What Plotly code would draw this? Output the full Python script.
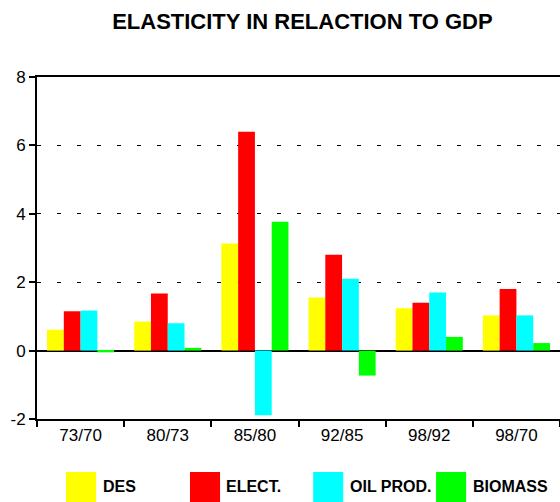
import plotly.graph_objects as go

# data
periods = ["73/70", "80/73", "85/80", "92/85", "98/92", "98/70"]
series_names = ["DES", "ELECT.", "OIL PROD.", "BIOMASS"]
des = [0.61, 0.85, 3.13, 1.55, 1.24, 1.03]
elect = [1.15, 1.67, 6.40, 2.80, 1.40, 1.80]
oil_prod = [1.17, 0.80, -1.89, 2.10, 1.70, 1.03]
biomass = [-0.05, 0.08, 3.77, -0.73, 0.40, 0.22]
y_ticks = [-2, 0, 2, 4, 6, 8]
y_tick_labels = ["-2", "0", "2", "4", "6", "8"]

colors = ["#FFFF00", "#FF0000", "#00FFFF", "#00FF00"]
values = [des, elect, oil_prod, biomass]

fig = go.Figure()

for name, vals, col in zip(series_names, values, colors):
    fig.add_trace(go.Bar(
        x=periods,
        y=vals,
        name=name,
        marker=dict(color=col, line=dict(width=0)),
        showlegend=False,
    ))

# hand-made legend with large swatches, like the original
legend_x = [0.0555, 0.2925, 0.528, 0.763]
for name, col, lx in zip(series_names, colors, legend_x):
    fig.add_shape(
        type="rect", xref="paper", yref="paper",
        x0=lx, x1=lx + 0.0575, y0=-0.155, y1=-0.245,
        fillcolor=col, line=dict(width=0),
    )
    fig.add_annotation(
        text=f"<b>{name}</b>", xref="paper", yref="paper",
        x=lx + 0.066, y=-0.196, xanchor="left", yanchor="middle",
        showarrow=False, font=dict(size=16, color="black"),
    )

fig.update_layout(
    width=560,
    height=502,
    title=dict(
        text="<b>ELASTICITY IN RELACTION TO GDP</b>",
        x=0.54, xanchor="center", y=0.958, yanchor="middle",
        font=dict(size=22, color="black"),
    ),
    barmode="group",
    bargap=0.23,
    bargroupgap=0,
    margin=dict(l=37, r=0, t=77, b=83, pad=0),
    font=dict(family="Arial, Liberation Sans, sans-serif", size=17, color="black"),
    plot_bgcolor="white",
    paper_bgcolor="white",
)

fig.update_xaxes(
    showline=True, linecolor="black", linewidth=2, mirror=True,
    ticks="outside", tickson="boundaries", ticklen=6, tickwidth=2, tickcolor="black",
    showgrid=False, automargin=False,
)

fig.update_yaxes(
    range=[-2, 8], tickvals=y_ticks, ticktext=y_tick_labels,
    showline=True, linecolor="black", linewidth=2,
    ticks="outside", ticklen=6, tickwidth=2, tickcolor="black",
    showgrid=True, gridcolor="black", gridwidth=1, griddash="4px,16px",
    zeroline=True, zerolinecolor="black", zerolinewidth=2,
    automargin=False,
)

fig.write_html(
    "out.html",
    config={"displayModeBar": False},
    post_script="document.body.style.margin='0';",
)
